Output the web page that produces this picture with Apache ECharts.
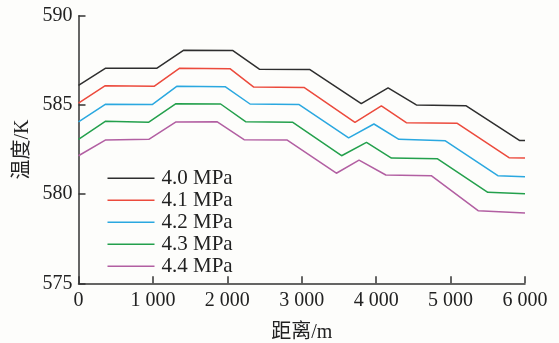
<!DOCTYPE html>
<html>
<head>
<meta charset="utf-8">
<script src="https://cdn.jsdelivr.net/npm/echarts@6/dist/echarts.min.js"></script>
<style>
  html, body { margin: 0; padding: 0; background: #fdfdfb; }
  #chart { width: 559px; height: 343px; }
</style>
</head>
<body>
<div id="chart"></div>
<script>
// Pressure cases and their line colours
const seriesNames = ['4.0 MPa', '4.1 MPa', '4.2 MPa', '4.3 MPa', '4.4 MPa'];
const seriesColors = ['#2e2e2e', '#ec4a3c', '#2aa8e0', '#23a04c', '#b25fa2'];

// Distance along the pipe (m) for each case
const dist40 = [0, 360, 1050, 1410, 2070, 2430, 3110, 3800, 4160, 4540, 5210, 5930, 6000];
const dist41 = [0, 360, 1020, 1355, 2035, 2355, 3030, 3715, 4070, 4405, 5090, 5785, 6000];
const dist42 = [0, 360, 990, 1320, 1970, 2305, 2965, 3630, 3970, 4305, 4930, 5635, 6000];
const dist43 = [0, 360, 945, 1310, 1910, 2245, 2875, 3535, 3870, 4205, 4825, 5500, 6000];
const dist44 = [0, 360, 945, 1305, 1865, 2225, 2805, 3465, 3770, 4130, 4740, 5370, 6000];

// Temperature (K) for each case
const temp40 = [586.1, 587.05, 587.05, 588.06, 588.05, 587.0, 586.98, 585.07, 585.95, 585.0, 584.95, 583.0, 583.0];
const temp41 = [585.1, 586.08, 586.05, 587.05, 587.03, 586.0, 585.98, 584.02, 584.95, 584.0, 583.97, 582.04, 582.03];
const temp42 = [584.05, 585.03, 585.02, 586.04, 586.02, 585.05, 585.02, 583.15, 583.93, 583.07, 582.99, 581.03, 580.97];
const temp43 = [583.07, 584.08, 584.03, 585.07, 585.05, 584.06, 584.03, 582.15, 582.9, 582.02, 581.98, 580.1, 580.02];
const temp44 = [582.15, 583.03, 583.07, 584.04, 584.05, 583.05, 583.03, 581.17, 581.9, 581.07, 581.03, 579.07, 578.94];

// Axis tick labels
const xTicks = ['0', '1 000', '2 000', '3 000', '4 000', '5 000', '6 000'];
const yTicks = ['575', '580', '585', '590'];

const distances = [dist40, dist41, dist42, dist43, dist44];
const temps = [temp40, temp41, temp42, temp43, temp44];

const serifFont = '"Liberation Serif", "Times New Roman", "Noto Sans CJK SC", serif';
const axisColor = '#333';
const textColor = '#222';

const chart = echarts.init(document.getElementById('chart'), null, { renderer: 'canvas' });

const series = seriesNames.map((name, i) => ({
  name: name,
  type: 'line',
  data: distances[i].map((d, j) => [d, temps[i][j]]),
  symbol: 'none',
  showSymbol: false,
  lineStyle: { color: seriesColors[i], width: 1.5 },
  itemStyle: { color: seriesColors[i] }
}));

chart.setOption({
  backgroundColor: '#fdfdfb',
  animation: false,
  grid: {
    left: 78.5, right: 34, top: 15.7, bottom: 59.7,
    containLabel: false,
    outerBoundsMode: 'none'
  },
  legend: {
    orient: 'vertical',
    left: 107.5,
    top: 167.3,
    padding: 0,
    icon: 'rect',
    itemWidth: 47,
    itemHeight: 1.6,
    itemGap: 0,
    data: seriesNames,
    textStyle: { fontFamily: serifFont, fontSize: 21, color: textColor, lineHeight: 22, padding: [0, 0, 0, 2] }
  },
  xAxis: {
    type: 'value',
    min: 0,
    max: 6000,
    interval: 1000,
    name: '距离/m',
    nameLocation: 'middle',
    nameMoveOverlap: false,
    nameGap: 39,
    nameTextStyle: { fontFamily: serifFont, fontSize: 20, color: textColor },
    axisLine: { show: true, lineStyle: { color: axisColor, width: 1.5 } },
    axisTick: { show: true, inside: true, length: 7, lineStyle: { color: axisColor, width: 1.5 } },
    axisLabel: {
      margin: 7,
      fontFamily: serifFont,
      fontSize: 20,
      color: textColor,
      formatter: v => xTicks[Math.round(v / 1000)]
    },
    splitLine: { show: false }
  },
  yAxis: {
    type: 'value',
    min: 575,
    max: 590,
    interval: 5,
    name: '温度/K',
    nameLocation: 'middle',
    nameMoveOverlap: false,
    nameGap: 46,
    nameTextStyle: { fontFamily: serifFont, fontSize: 20, color: textColor },
    axisLine: { show: true, lineStyle: { color: axisColor, width: 1.5 } },
    axisTick: { show: true, inside: true, length: 7, lineStyle: { color: axisColor, width: 1.5 } },
    axisLabel: {
      margin: 6,
      fontFamily: serifFont,
      fontSize: 20,
      color: textColor,
      formatter: v => yTicks[Math.round((v - 575) / 5)]
    },
    splitLine: { show: false }
  },
  series: series
});
</script>
</body>
</html>
